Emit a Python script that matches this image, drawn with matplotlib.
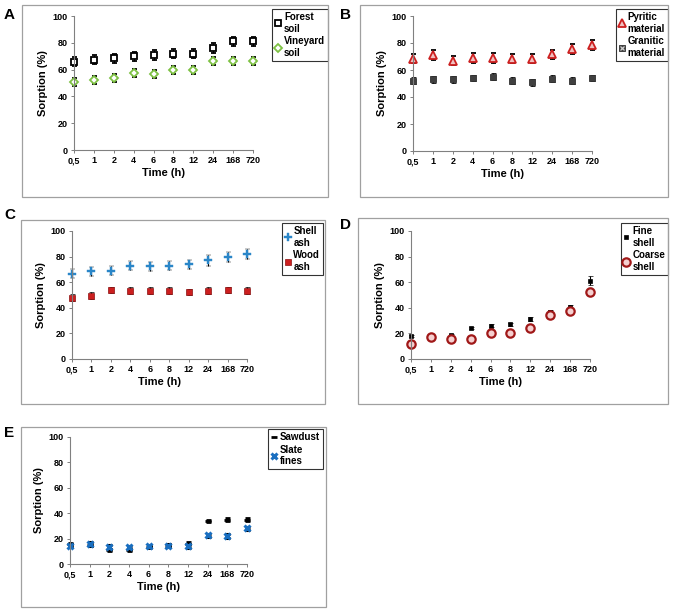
import matplotlib
matplotlib.use("Agg")
import matplotlib.pyplot as plt
from matplotlib.patches import Rectangle
from matplotlib.lines import Line2D

time_labels = ["0,5", "1", "2", "4", "6", "8", "12", "24", "168", "720"]

forest_soil = [66, 67.5, 68.5, 70, 71, 72, 72, 76, 81, 81]
forest_err = [3.5, 3.5, 3.5, 3.5, 3.5, 3.5, 3.5, 3.5, 3.5, 3.5]
vineyard_soil = [50.5, 52, 53.5, 57.5, 56.5, 60, 60, 66.5, 66.5, 66.5]
vineyard_err = [3, 3, 3, 3, 3, 3, 3, 3, 3, 3]

pyritic = [68.5, 71, 67, 69, 69, 68.5, 68.5, 71.5, 75.5, 78.5]
pyritic_err = [3.5, 3.5, 3.5, 3.5, 3.5, 3.5, 3.5, 3.5, 3.5, 3.5]
granitic = [52, 53, 53, 54, 55, 52, 51, 53.5, 52, 54]
granitic_err = [2.5, 2.5, 2.5, 2.5, 2.5, 2.5, 2.5, 2.5, 2.5, 2.5]

shell_ash = [66.5, 68.5, 69, 73, 72.5, 73, 74, 77, 79.5, 82]
shell_ash_err = [3.5, 3.5, 3.5, 3.5, 3.5, 3.5, 3.5, 4, 4, 4]
wood_ash = [48, 49.5, 54, 53.5, 53.5, 53.5, 52.5, 53.5, 54, 53.5]
wood_ash_err = [2.5, 2.5, 2.5, 2.5, 2.5, 2.5, 2.5, 2.5, 2.5, 2.5]

fine_shell = [18, 19, 19, 24, 26, 27, 31, 37, 41, 61]
fine_shell_err = [0.8, 0.8, 0.8, 0.8, 1.2, 1.2, 1.5, 1.5, 1.5, 3.5]
coarse_shell = [12, 17, 16, 15.5, 20, 20, 24, 34.5, 37.5, 52.5]
coarse_shell_err = [1.2, 1.2, 1.2, 1.2, 1.2, 1.2, 1.2, 1.5, 1.5, 2]

sawdust = [15.5, 15, 11, 11, 13.5, 14.5, 16, 34, 35, 35]
sawdust_err = [1, 1, 1, 1, 1, 1, 1, 1, 1, 1]
slate_fines = [14.5, 15.5, 13.5, 13, 14, 14.5, 14, 22.5, 22, 28]
slate_fines_err = [1.5, 1.5, 1.5, 1.5, 1, 1, 1.5, 1.5, 1.5, 1.5]

W, H = 675, 612
fig = plt.figure(figsize=(W / 100, H / 100), dpi=100)
plt.rcParams['font.family'] = ['Liberation Sans', 'DejaVu Sans']


def fx(x):
    return x / W


def fy(y):
    return 1 - y / H


def box(x0, y0, x1, y1, color="#a0a0a0", lw=0.9):
    fig.add_artist(Rectangle((fx(x0), fy(y1)), fx(x1 - x0), (y1 - y0) / H,
                             transform=fig.transFigure, fill=False,
                             edgecolor=color, linewidth=lw))


x = list(range(len(time_labels)))


def panel(letter, lx, ly, outer, axrect, series, legrect):
    box(*outer)
    fig.text(fx(lx), fy(ly), letter, fontsize=11, fontweight='bold',
             ha='left', va='center')
    l, r, t, b = axrect
    ax = fig.add_axes([fx(l), fy(b), fx(r - l), (b - t) / H])
    handles = []
    for s in series:
        vals, err, label, kw = s[:4]
        overlay = s[4] if len(s) > 4 else None
        cont = ax.errorbar(x, vals, yerr=err, linestyle='none', ecolor='black',
                           elinewidth=0.8, capsize=1.8, capthick=0.8, **kw)
        for a in cont.get_children():
            a.set_clip_on(False)
        cont[0].set_clip_on(False)
        if overlay is not None:
            ax.plot(x, vals, linestyle='none', clip_on=False, **overlay)
            handles.append((Line2D([], [], linestyle='none', **kw),
                            Line2D([], [], linestyle='none', **overlay)))
        else:
            handles.append(Line2D([], [], linestyle='none', **kw))
    ax.set_xlim(0, 9)
    ax.set_ylim(0, 100)
    ax.set_yticks([0, 20, 40, 60, 80, 100])
    ax.set_xticks(x)
    ax.set_xticklabels(time_labels)
    for sp in ['top', 'right']:
        ax.spines[sp].set_visible(False)
    for sp in ['left', 'bottom']:
        ax.spines[sp].set_color('#808080')
        ax.spines[sp].set_linewidth(0.8)
    ax.tick_params(axis='both', labelsize=6.5, length=2.5, width=0.7,
                   color='#808080', pad=2)
    for lab in ax.get_xticklabels() + ax.get_yticklabels():
        lab.set_fontweight('bold')
    ax.set_xlabel("Time (h)", fontsize=8, fontweight='bold', labelpad=2)
    ax.set_ylabel("Sorption (%)", fontsize=8, fontweight='bold', labelpad=3)
    ax.patch.set_alpha(0)
    lx0, ly0, lx1, ly1 = legrect
    leg = ax.legend(handles, [s[2] for s in series], loc='upper right',
                    bbox_to_anchor=(fx(lx1), fy(ly0)),
                    bbox_transform=fig.transFigure,
                    fontsize=7, frameon=True, fancybox=False,
                    handlelength=0.6, handletextpad=0.3, borderpad=0.3,
                    labelspacing=0.3, borderaxespad=0, numpoints=1)
    leg.get_frame().set_edgecolor('black')
    leg.get_frame().set_linewidth(0.8)
    for t in leg.get_texts():
        t.set_fontweight('bold')
    return ax


panel("A", 4, 15, (22, 5, 328, 197), (74, 253, 16, 150),
      [(forest_soil, forest_err, "Forest\nsoil",
        dict(marker='s', ms=5, mfc='white', mec='black', mew=1.3, color='black')),
       (vineyard_soil, vineyard_err, "Vineyard\nsoil",
        dict(marker='D', ms=4, mfc='white', mec='#7dc142', mew=1.3, color='#7dc142'))],
      (275, 9, 328, 57))

panel("B", 340, 15, (360, 5, 668, 197), (413, 592, 16, 151),
      [(pyritic, pyritic_err, "Pyritic\nmaterial",
        dict(marker='^', ms=5.5, mfc='#f0c0c0', mec='#cc1f1f', mew=1.3, color='#cc1f1f')),
       (granitic, granitic_err, "Granitic\nmaterial",
        dict(marker='s', ms=5, mfc='#404040', mec='#303030', mew=0.6, color='#303030'),
        dict(marker='x', ms=3.5, mec='#d0d0d0', mew=0.9, color='#d0d0d0'))],
      (614, 9, 668, 57))

panel("C", 4, 215, (21, 220, 325, 404), (72, 247, 231, 359),
      [(shell_ash, shell_ash_err, "Shell\nash",
        dict(marker='P', ms=5.5, mfc='#2a86c8', mec='#2a86c8', mew=0.3, color='#2a86c8')),
       (wood_ash, wood_ash_err, "Wood\nash",
        dict(marker='s', ms=4, mfc='#cc1f1f', mec='#8b1010', mew=0.5, color='#cc1f1f'))],
      (275, 223, 323, 270))

panel("D", 340, 225, (358, 218, 668, 404), (411, 590, 231, 359),
      [(fine_shell, fine_shell_err, "Fine\nshell",
        dict(marker='s', ms=3.5, mfc='black', mec='black', mew=0.5, color='black')),
       (coarse_shell, coarse_shell_err, "Coarse\nshell",
        dict(marker='o', ms=6, mfc='#f5d0d0', mec='#a01818', mew=1.6, color='#a01818'))],
      (619, 223, 668, 269))

panel("E", 4, 433, (21, 427, 326, 607), (70, 247, 437, 564),
      [(sawdust, sawdust_err, "Sawdust",
        dict(marker='_', ms=5, mfc='black', mec='black', mew=2, color='black')),
       (slate_fines, slate_fines_err, "Slate\nfines",
        dict(marker='x', ms=5, mfc='#1a6fc0', mec='#1a6fc0', mew=2.2, color='#1a6fc0'))],
      (275, 429, 323, 465))

fig.savefig("out.png", dpi=100)
